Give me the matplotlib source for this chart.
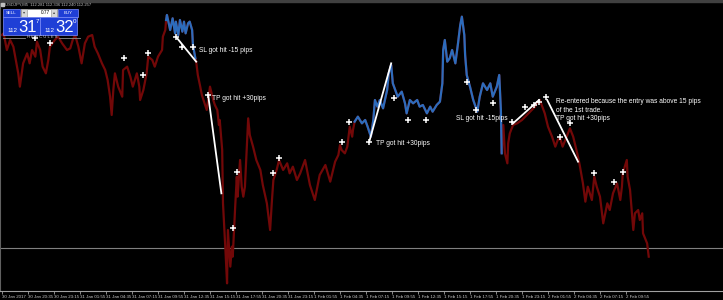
import numpy as np
import matplotlib.pyplot as plt
from matplotlib.patches import Rectangle

# USDJPY M5 closes (bar index, price)
bars = [0, 2, 6, 10, 14, 17, 20, 22, 26, 31, 34, 37, 41, 43, 47, 50, 54, 57, 59, 65,
        69, 74, 80, 84, 87, 90, 94, 98, 102, 106, 111, 114, 118, 123, 127, 130, 133, 135, 137, 139,
        143, 148, 149, 154, 158, 161, 166, 169, 170, 174, 178, 180, 185, 188, 192, 197, 198, 201,
        202, 203, 207, 210, 213, 214, 217, 219, 222, 224, 226, 229, 231, 234, 235, 238,
        239, 241, 244, 246, 250, 252, 256, 260, 262, 265, 267, 268, 271, 272, 275, 277, 278, 281,
        283, 284, 287, 289, 290, 293, 295, 297, 299, 303, 305, 309, 313, 318, 321, 326, 330, 332,
        334, 338, 341, 346, 351, 354, 358, 363, 367, 373, 379, 385, 391, 398, 404, 410, 414, 416,
        418, 422, 425, 428, 431, 432,
        434, 438, 443, 447, 450, 454, 457, 459, 462, 465, 469, 474, 476, 479, 481, 484, 487, 492,
        496, 498, 502, 506, 511, 514, 518, 523, 527, 530, 535, 539, 542, 543, 545, 548, 551, 554,
        558, 561, 564, 566, 569, 570, 572, 576, 580, 585, 588, 592, 597, 601, 604, 609, 612, 614, 615,
        617, 619, 622, 623, 625, 629, 634, 640, 644, 650, 656, 658, 662, 665, 668, 672, 677, 681,
        684, 687, 690, 695, 699, 703, 708, 711, 715, 718, 721, 726, 729, 732, 736, 740, 745, 748,
        752, 757, 761, 763, 764, 769, 770, 773, 777, 779, 783, 785, 788, 789, 794, 795, 796]
price = [113.59, 113.60, 113.50, 113.56, 113.52, 113.44, 113.36, 113.28, 113.42, 113.48,
         113.42, 113.50, 113.46, 113.55, 113.50, 113.40, 113.36, 113.44, 113.52, 113.56,
         113.58, 113.54, 113.50, 113.51, 113.56, 113.59, 113.52, 113.42, 113.54, 113.58,
         113.59, 113.52, 113.48, 113.42, 113.38, 113.32, 113.22, 113.11, 113.26, 113.36,
         113.28, 113.22, 113.38, 113.40, 113.34, 113.28, 113.36, 113.28, 113.20, 113.26,
         113.36, 113.46, 113.44, 113.40, 113.46, 113.50, 113.58, 113.62,
         113.68, 113.71, 113.62, 113.69, 113.60, 113.67, 113.59, 113.68, 113.61, 113.67,
         113.60, 113.66, 113.67, 113.62, 113.53, 113.45,
         113.43, 113.35, 113.28, 113.23, 113.17, 113.14, 113.28, 113.20, 113.17, 113.14,
         113.05, 113.08, 112.90, 112.58, 112.30, 112.10, 112.42, 112.20, 112.32, 112.26,
         112.56, 112.74, 112.62, 112.84, 112.68, 112.62, 112.68, 113.09, 112.99, 112.92,
         112.84, 112.78, 112.69, 112.58, 112.42, 112.58, 112.72, 112.78, 112.84, 112.78,
         112.82, 112.76, 112.80, 112.72, 112.76, 112.84, 112.69, 112.60, 112.75, 112.81,
         112.71, 112.83, 112.87, 112.93, 112.90, 112.88, 112.92, 113.04, 112.98, 113.02,
         113.07, 113.10, 113.06, 113.08, 113.04, 112.98, 113.08, 113.20, 113.16, 113.20,
         113.15, 113.26, 113.36, 113.41, 113.30, 113.26, 113.22, 113.25, 113.18, 113.12,
         113.20, 113.18, 113.20, 113.16, 113.17, 113.12, 113.16, 113.13, 113.17, 113.19,
         113.30, 113.50, 113.56, 113.43, 113.45, 113.50, 113.42, 113.53, 113.65, 113.70,
         113.59, 113.47, 113.35, 113.28, 113.20, 113.13, 113.22, 113.30, 113.26, 113.30,
         113.22, 113.28, 113.35, 113.14, 112.88,
         113.05, 112.88, 112.82, 112.94, 113.00, 113.05, 113.06, 113.08, 113.10, 113.13,
         113.16, 113.18, 113.20, 113.16, 113.12, 113.04, 112.98, 112.92, 112.96, 112.97,
         112.92, 112.98, 113.03, 112.98, 112.88, 112.81, 112.70, 112.59, 112.68, 112.60,
         112.74, 112.68, 112.62, 112.46, 112.58, 112.54, 112.64, 112.70, 112.60, 112.68,
         112.76, 112.84, 112.74, 112.66, 112.42, 112.52, 112.54, 112.48, 112.52, 112.40,
         112.34, 112.30, 112.26]

# stretches drawn in blue (bar from, bar to)
blue_spans = [(202, 238), (434, 615)]

bid = 112.31

# down-arrow signals
arrow_bars = [41, 59, 150, 174, 180, 214, 222, 235, 254, 284, 289, 334, 341, 418, 427,
              452, 482, 500, 522, 572, 583, 604, 628, 644, 655, 661, 670, 687, 699, 729, 753, 764]
arrow_price = [113.57, 113.54, 113.45, 113.35, 113.48, 113.58, 113.52, 113.52, 113.23, 112.43,
               112.77, 112.76, 112.85, 112.95, 113.07, 112.95, 113.21, 113.08, 113.08, 113.31,
               113.14, 113.18, 113.07, 113.16, 113.17, 113.19, 113.22, 112.98, 113.06, 112.76,
               112.71, 112.77]

# hand drawn trend lines ((bar, price), (bar, price))
trend_lines = [((214, 113.58), (239, 113.43)),
               ((254, 113.22), (270, 112.64)),
               ((452, 112.95), (479, 113.42)),
               ((629, 113.06), (661, 113.20)),
               ((671, 113.20), (709, 112.83))]

notes = [(242, 113.50, "SL got hit -15 pips"),
         (258, 113.21, "TP got hit +30pips"),
         (460, 112.94, "TP got hit +30pips"),
         (559, 113.09, "SL got hit -15pips"),
         (682, 113.14, "Re-entered because the entry was above 15 pips\nof the 1st trade.\nTP got hit +30pips")]

tick_bars = np.arange(0, 800, 32)
tick_labels = ["30 Jan 2017", "30 Jan 20:35", "30 Jan 23:15", "31 Jan 01:55", "31 Jan 04:35",
               "31 Jan 07:15", "31 Jan 09:55", "31 Jan 12:35", "31 Jan 15:15", "31 Jan 17:55",
               "31 Jan 20:35", "31 Jan 23:15", "1 Feb 01:55", "1 Feb 04:35", "1 Feb 07:15",
               "1 Feb 09:55", "1 Feb 12:35", "1 Feb 15:15", "1 Feb 17:55", "1 Feb 20:35",
               "1 Feb 23:15", "2 Feb 01:55", "2 Feb 04:35", "2 Feb 07:15", "2 Feb 09:55"]

plt.rcParams['font.family'] = ['Liberation Sans', 'DejaVu Sans']

fig = plt.figure(figsize=(7.23, 3.0), dpi=100, facecolor="black")
ax = fig.add_axes([0, 0.03, 1, 0.97])
ax.set_facecolor("black")

bars = np.array(bars)
price = np.array(price)
ax.plot(bars, price, color="#720808", lw=1.6, zorder=2)
for b0, b1 in blue_spans:
    m = (bars >= b0) & (bars <= b1)
    ax.plot(bars[m], price[m], color="#2c6cbc", lw=1.6, zorder=3)

ax.axhline(bid, color="#808080", lw=0.8, zorder=1)

for (b0, p0), (b1, p1) in trend_lines:
    ax.plot([b0, b1], [p0, p1], color="white", lw=1.3, zorder=4)
ax.plot(arrow_bars, arrow_price, "+", color="white", ms=4, mew=1.1, zorder=5)

for b, p, t in notes:
    ax.text(b, p, t, color="white", fontsize=4.8, ha="left", va="center",
            linespacing=1.25, zorder=6)

ax.set_xlim(-2.46, 887.4)
ax.set_ylim(112.054, 113.80)
ax.set_yticks([])
ax.set_xticks(tick_bars)
ax.set_xticklabels(tick_labels, ha="left", fontsize=3.2, color="#c8c8c8")
ax.tick_params(axis="x", length=2, width=0.6, color="#a0a0a0", pad=1)
for s in ["top", "right"]:
    ax.spines[s].set_visible(False)
ax.spines["bottom"].set_color("#a0a0a0")
ax.spines["bottom"].set_linewidth(0.8)
ax.spines["left"].set_color("#606060")
ax.spines["left"].set_linewidth(1.5)

# one-click trading panel, pixel coordinates
ui = fig.add_axes([0, 0, 1, 1], zorder=10)
ui.set_xlim(0, 723)
ui.set_ylim(300, 0)
ui.axis("off")
ui.patch.set_alpha(0)

ui.add_patch(Rectangle((0, 0), 723, 2, color="#404040"))
ui.text(5, 4.5, "USDJPY,M5  112.281 112.336 112.240 112.257", fontsize=3, color="#c0c0c0",
        va="center")
ui.add_patch(Rectangle((1, 3), 2.5, 3, color="#c0c0c0"))

blue = "#1f3fd6"
ui.add_patch(Rectangle((3, 8.5), 17, 8, facecolor=blue, edgecolor="#8090ff", lw=0.5))
ui.text(11.5, 12.5, "SELL", fontsize=3.2, color="white", ha="center", va="center")
ui.add_patch(Rectangle((21, 8.5), 36, 8, facecolor="white", edgecolor="#a0a0a0", lw=0.5))
ui.add_patch(Rectangle((21, 8.5), 6, 8, facecolor="#d8d8d8", edgecolor="#a0a0a0", lw=0.5))
ui.add_patch(Rectangle((51, 8.5), 6, 8, facecolor="#d8d8d8", edgecolor="#a0a0a0", lw=0.5))
ui.text(24, 12.5, "▾", fontsize=3, color="#404040", ha="center", va="center")
ui.text(54, 12.5, "▴", fontsize=3, color="#404040", ha="center", va="center")
ui.text(50, 12.5, "0.77", fontsize=3.4, color="black", ha="right", va="center")
ui.add_patch(Rectangle((58, 8.5), 20, 8, facecolor=blue, edgecolor="#8090ff", lw=0.5))
ui.text(68, 12.5, "BUY", fontsize=3.2, color="white", ha="center", va="center")

for x0, big, sup in [(3, "31", "7"), (40, "32", "0")]:
    ui.add_patch(Rectangle((x0, 17), 37, 18, facecolor=blue, edgecolor="#8090ff", lw=0.5))
    ui.text(x0 + 4, 30, "112", fontsize=4.5, color="white", va="center")
    ui.text(x0 + 15, 27, big, fontsize=12, color="white", va="center")
    ui.text(x0 + 32.5, 21.5, sup, fontsize=4.5, color="white", va="center")

ui.plot([3, 25], [37.5, 37.5], color="#909090", lw=0.6)
ui.plot([59, 80], [37.5, 37.5], color="#909090", lw=0.6)
ui.text(42, 37.5, "H E R C U L E S", fontsize=3, color="#d0d0d0", ha="center", va="center")

fig.savefig("out.png", dpi=100, facecolor="black")
